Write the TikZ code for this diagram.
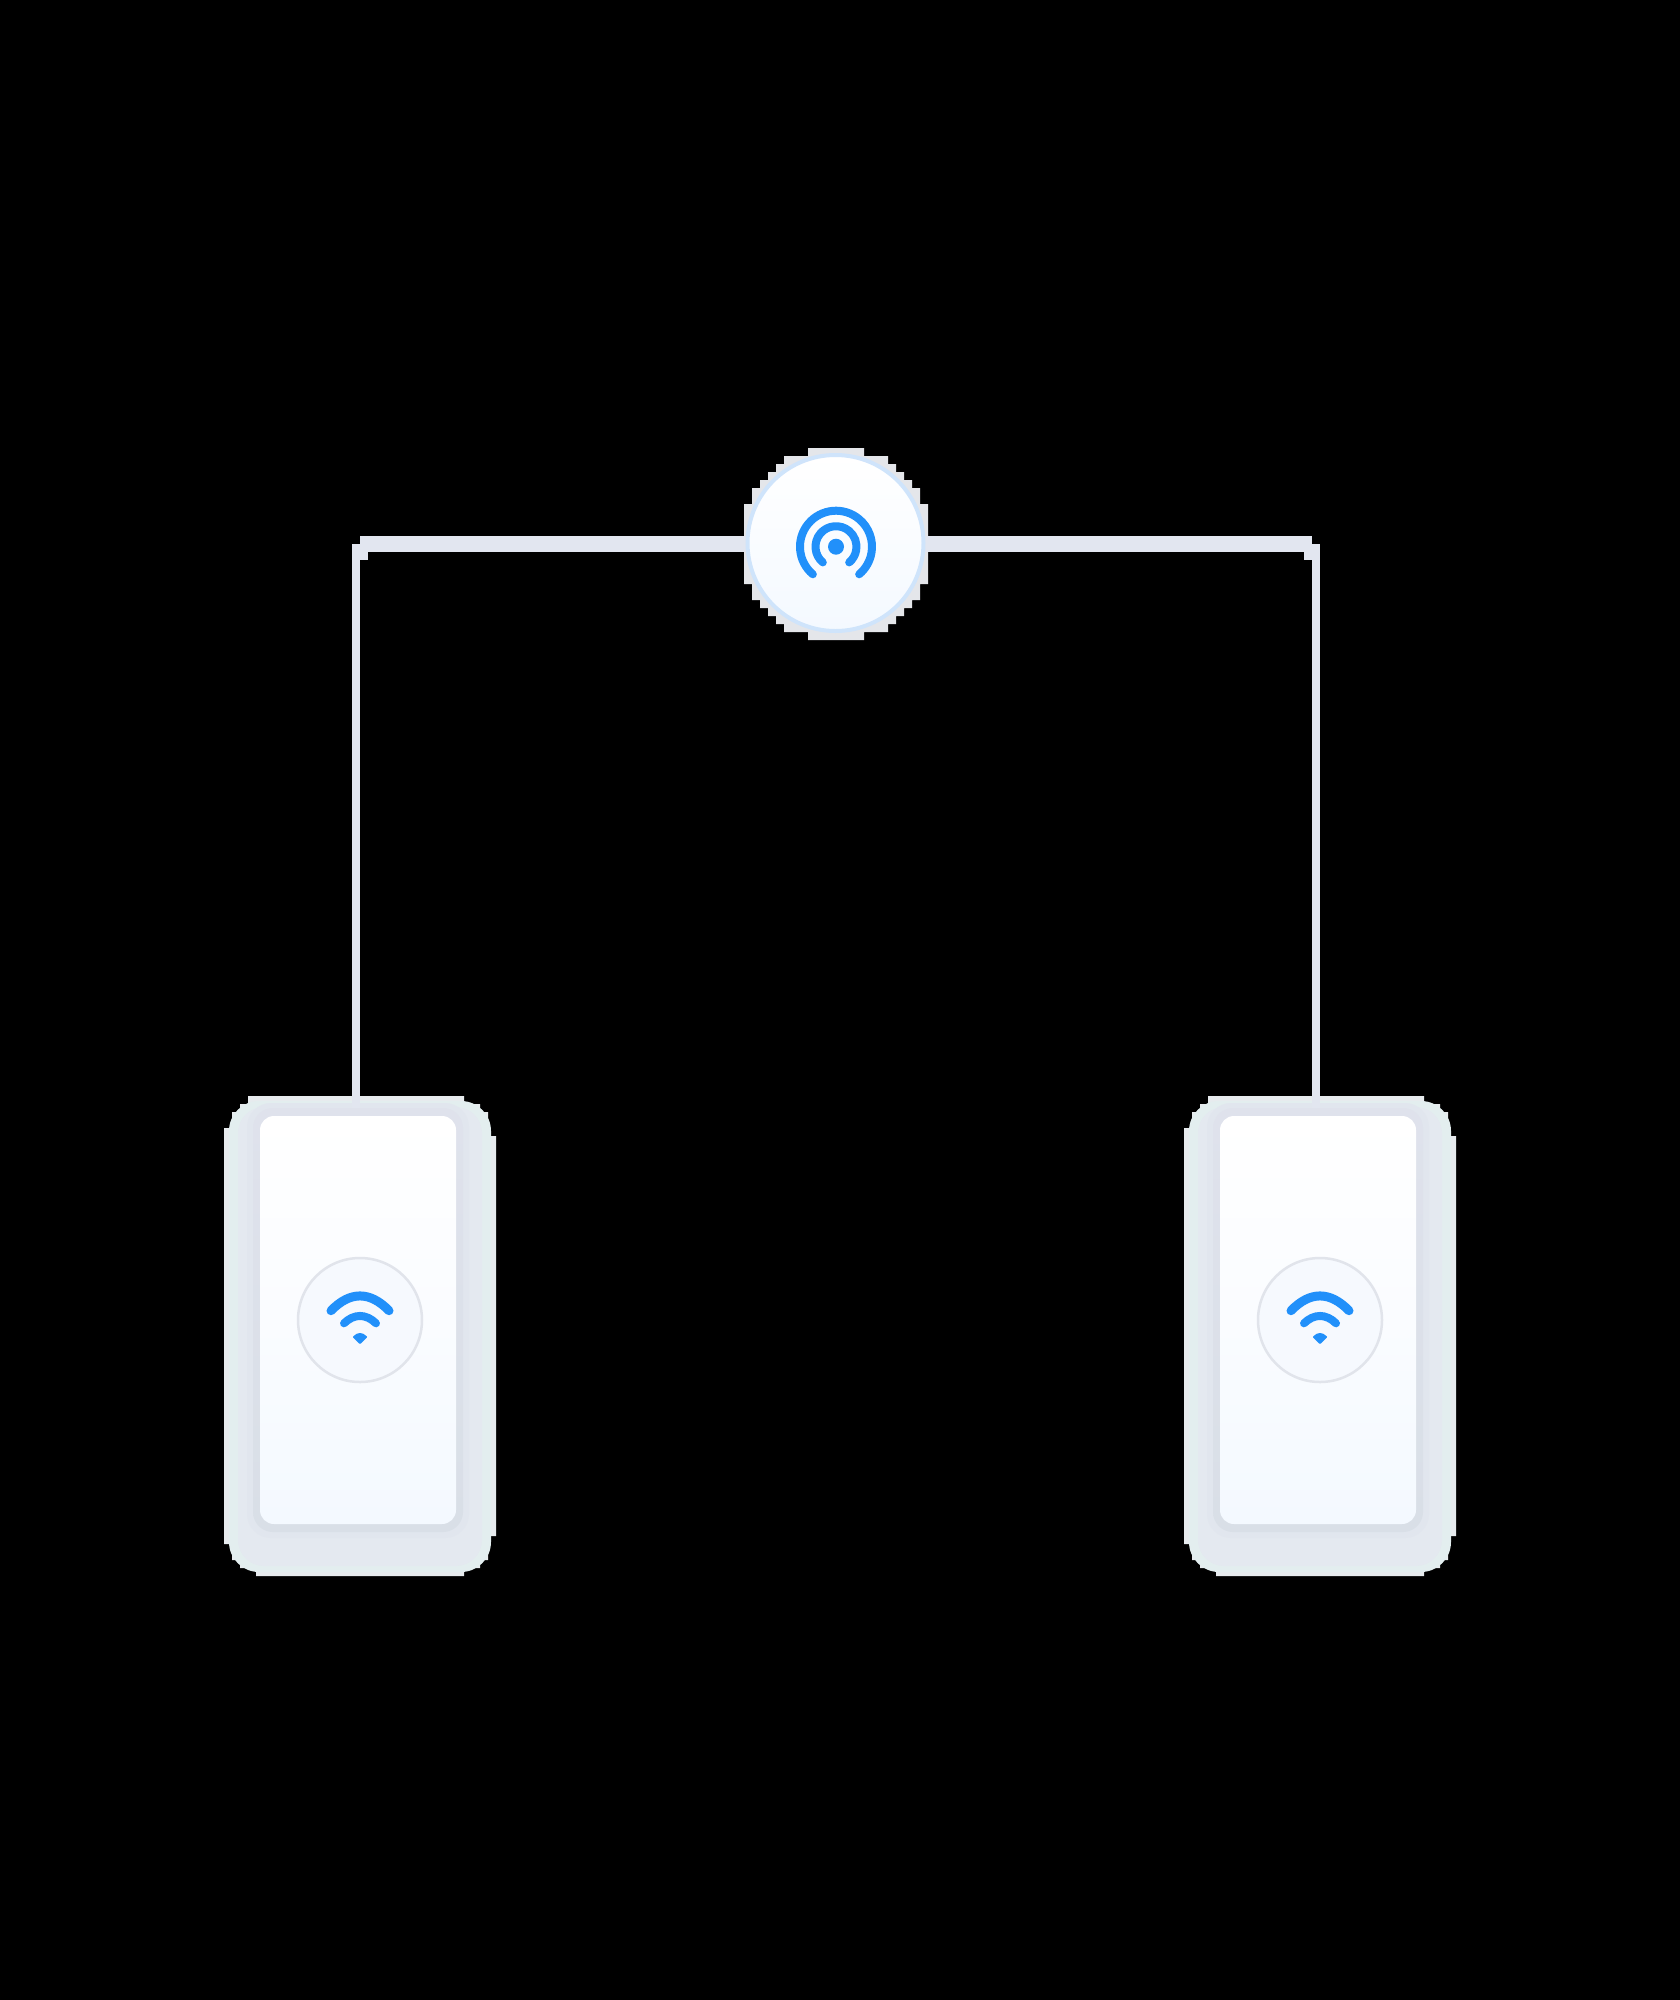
\documentclass[tikz,border=0pt]{standalone}
\pgfdeclarelayer{bgplane}
\pgfdeclarelayer{wireplane}
\pgfsetlayers{bgplane,wireplane,main}
\definecolor{blueicon}{HTML}{2190FA}
\definecolor{wirecol}{HTML}{E2E6F0}
\definecolor{palebot}{HTML}{F4F9FF}
\definecolor{blockcol}{HTML}{E7EBEE}
\definecolor{hubblock}{HTML}{E4E6EA}
\definecolor{hubring}{HTML}{CFE4FB}
\definecolor{DFframe}{HTML}{DFE2EC}
\definecolor{D9frame}{HTML}{D9DFE7}
\definecolor{ringcol}{HTML}{E1E4EB}
\definecolor{ringfill}{HTML}{F6F9FE}
\definecolor{bodytop}{HTML}{E3EEEF}
\definecolor{bodyin}{HTML}{E4E9F0}
\definecolor{softcol}{HTML}{E1E6EE}
\definecolor{facemid}{HTML}{FAFCFF}
\tikzset{
  wirewide/.style={draw=wirecol,line width=16pt},
  wirethin/.style={draw=wirecol,line width=8pt},
  hubnode/.style={circle,minimum size=176pt,inner sep=0pt,outer sep=0pt,draw=hubring,line width=4pt,top color=white,bottom color=palebot},
  framenode/.style={rectangle,rounded corners=20pt,minimum width=210pt,minimum height=424pt,inner sep=0pt,outer sep=0pt,top color=DFframe,bottom color=D9frame},
  facenode/.style={rectangle,rounded corners=14pt,minimum width=196pt,minimum height=408pt,inner sep=0pt,outer sep=0pt,top color=white,bottom color=palebot,middle color=facemid},
  ringnode/.style={circle,minimum size=124pt,inner sep=0pt,outer sep=0pt,draw=ringcol,line width=2.5pt,fill=ringfill},
  iconline/.style={draw=blueicon,line width=8pt,line cap=round},
}
% #1 suffix of the names, #2 horizontal shift
\newcommand{\DeviceCard}[2]{%
\begin{scope}[xshift=#2pt]
  \begin{pgfonlayer}{bgplane}
    \fill[blockcol] (248,1096) -- (464,1096) -- (464,1104) -- (480,1104) -- (480,1112) -- (488,1112) -- (488,1136) -- (496,1136)
      -- (496,1536) -- (488,1536) -- (488,1560) -- (480,1560) -- (480,1568) -- (464,1568) -- (464,1576)
      -- (256,1576) -- (256,1568) -- (240,1568) -- (240,1560) -- (232,1560) -- (232,1544) -- (224,1544)
      -- (224,1128) -- (232,1128) -- (232,1112) -- (240,1112) -- (240,1104) -- (248,1104) -- cycle;
    \fill[bodytop,rounded corners=30pt] (229,1101) rectangle (491,1572);
    \fill[bodyin,rounded corners=26pt] (238,1107) rectangle (482,1566);
    \fill[softcol,rounded corners=24pt] (247,1103) rectangle (469,1538);
  \end{pgfonlayer}
  \node[framenode] (frame#1) at (358,1320) {};
  \node[facenode] (face#1) at (358,1320) {};
  \node[ringnode] (ring#1) at (360,1320) {};
  \draw[iconline,line width=9pt] (331,1310.7) .. controls (350,1291) and (370,1291) .. (389,1310.7);
  \draw[iconline] (344,1323.3) .. controls (354,1313.5) and (366,1313.5) .. (376,1323.3);
  \filldraw[blueicon,line width=2pt,line join=round] (354,1337) -- (360,1343) -- (366,1337) .. controls (362,1333) and (358,1333) .. cycle;
\end{scope}}
\begin{document}
\begin{tikzpicture}[x=1pt,y=-1pt]
  \useasboundingbox (0,0) rectangle (1680,2000);
  \begin{pgfonlayer}{bgplane}
    \fill[black] (0,0) rectangle (1680,2000);
    \fill[hubblock] (808,448) -- (864,448) -- (864,456) -- (888,456) -- (888,464) -- (896,464) -- (896,472) -- (904,472) -- (904,480) -- (912,480) -- (912,488) -- (920,488) -- (920,504) -- (928,504)
      -- (928,584) -- (920,584) -- (920,600) -- (912,600) -- (912,608) -- (904,608) -- (904,616) -- (896,616) -- (896,624) -- (888,624) -- (888,632) -- (864,632) -- (864,640)
      -- (808,640) -- (808,632) -- (784,632) -- (784,624) -- (776,624) -- (776,616) -- (768,616) -- (768,608) -- (760,608) -- (760,600) -- (752,600) -- (752,584) -- (744,584)
      -- (744,504) -- (752,504) -- (752,488) -- (760,488) -- (760,480) -- (768,480) -- (768,472) -- (776,472) -- (776,464) -- (784,464) -- (784,456) -- (808,456) -- cycle;
  \end{pgfonlayer}
  \node[hubnode] (hub) at (835.5,543) {};
  \coordinate (iconc) at (836,546.7);
  \fill[blueicon] (iconc) circle[radius=8pt];
  \draw[iconline] ([shift={(230:36pt)}]iconc) arc[start angle=230,end angle=-50,radius=36pt];
  \draw[iconline] ([shift={(230:20.5pt)}]iconc) arc[start angle=230,end angle=-50,radius=20.5pt];
  \DeviceCard{L}{0}
  \DeviceCard{R}{960}
  \coordinate (kneeL) at (360,544);
  \coordinate (dropL) at (356,544);
  \coordinate (kneeR) at (1312,544);
  \coordinate (dropR) at (1316,544);
  \begin{pgfonlayer}{wireplane}
    \draw[wirewide] (hub.west |- kneeL) -- (kneeL);
    \draw[wirewide] (hub.east |- kneeR) -- (kneeR);
    \draw[wirethin] (dropL) -- (dropL |- frameL.north);
    \draw[wirethin] (dropR) -- (dropR |- frameR.north);
    \fill[wirecol] (352,544) rectangle (368,560);
    \fill[wirecol] (1304,544) rectangle (1320,560);
  \end{pgfonlayer}
\end{tikzpicture}
\end{document}
